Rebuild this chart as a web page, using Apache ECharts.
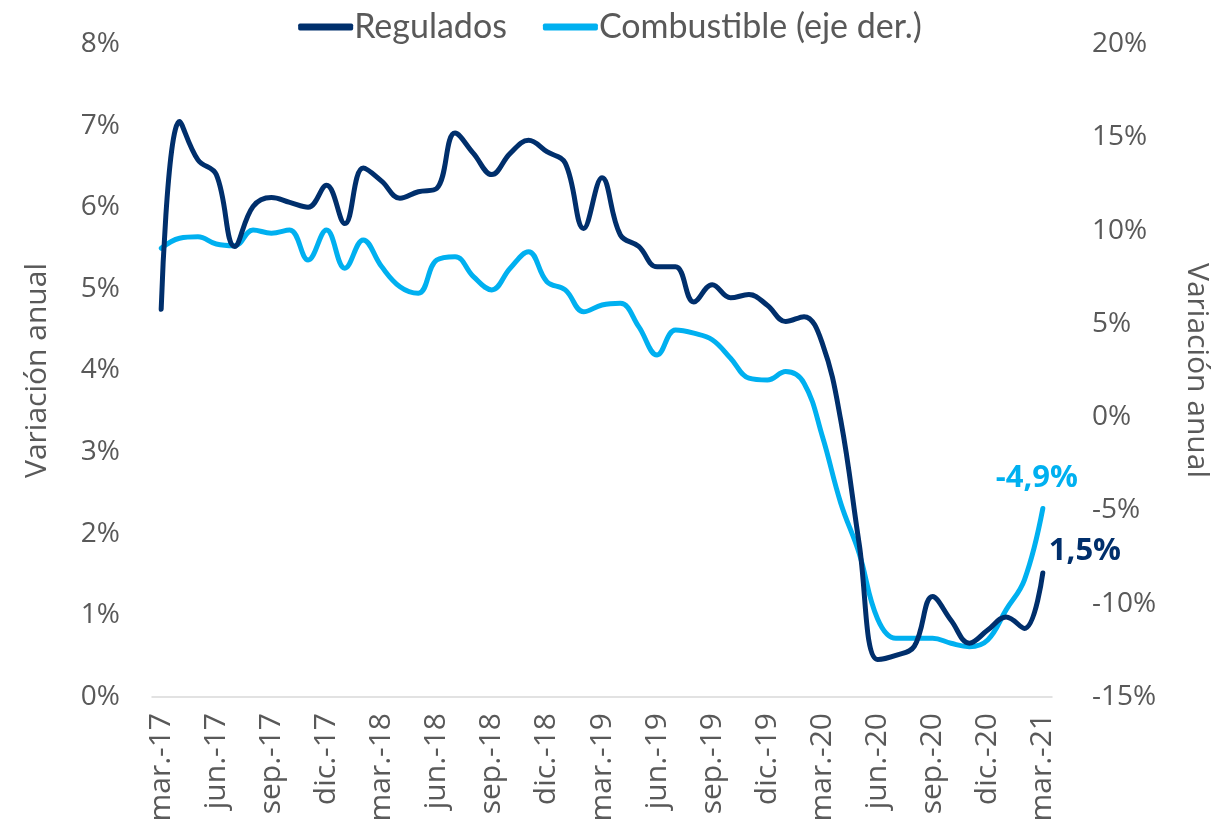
<!DOCTYPE html>
<html>
<head>
<meta charset="utf-8">
<script src="https://cdn.jsdelivr.net/npm/echarts@6/dist/echarts.min.js"></script>
<style>
  html, body { margin: 0; padding: 0; background: #fff; }
  #chart { width: 1220px; height: 839px; }
</style>
</head>
<body>
<div id="chart"></div>
<script>
// meses (mar.-17 a mar.-21)
var meses = [
  'mar.-17','abr.-17','may.-17','jun.-17','jul.-17','ago.-17','sep.-17','oct.-17','nov.-17','dic.-17',
  'ene.-18','feb.-18','mar.-18','abr.-18','may.-18','jun.-18','jul.-18','ago.-18','sep.-18','oct.-18','nov.-18','dic.-18',
  'ene.-19','feb.-19','mar.-19','abr.-19','may.-19','jun.-19','jul.-19','ago.-19','sep.-19','oct.-19','nov.-19','dic.-19',
  'ene.-20','feb.-20','mar.-20','abr.-20','may.-20','jun.-20','jul.-20','ago.-20','sep.-20','oct.-20','nov.-20','dic.-20',
  'ene.-21','feb.-21','mar.-21'
];
// variacion anual regulados (eje izq., %)
var regulados = [
  4.75, 7.05, 6.58, 6.40, 5.52, 6.01, 6.12, 6.06, 6.00, 6.27,
  5.80, 6.48, 6.32, 6.11, 6.19, 6.23, 6.91, 6.66, 6.40, 6.66, 6.82, 6.68,
  6.54, 5.74, 6.36, 5.66, 5.52, 5.27, 5.27, 4.84, 5.05, 4.89, 4.93, 4.80,
  4.60, 4.66, 4.33, 3.39, 1.88, 0.46, 0.51, 0.62, 1.23, 0.94, 0.66, 0.82,
  0.98, 0.84, 1.52
];
// variacion anual combustible (eje der., %)
var combustible = [
  9.05, 9.59, 9.67, 9.28, 9.19, 10.03, 9.86, 10.03, 8.42, 10.03,
  7.98, 9.50, 8.07, 6.99, 6.64, 8.42, 8.60, 7.53, 6.82, 7.98, 8.87, 7.26,
  6.82, 5.65, 6.01, 6.10, 4.85, 3.33, 4.67, 4.50, 4.15, 3.16, 2.09, 1.99,
  2.44, 1.82, -1.04, -4.61, -7.29, -10.80, -11.85, -11.85, -11.85, -12.12, -12.30, -11.94,
  -10.33, -8.72, -4.90
];
var ejeIzq = { min: 0, max: 8, interval: 1 };
var ejeDer = { min: -15, max: 20, interval: 5 };

var gris = '#595959';
var azulOscuro = '#002F6C';
var azulClaro = '#00B0F0';

function fmtComa(v) {
  return v.toFixed(1).replace('.', ',') + '%';
}

var myChart = echarts.init(document.getElementById('chart'));
var option = {
  animation: false,
  legend: {
    top: 5,
    left: 'center',
    itemWidth: 55,
    itemHeight: 7,
    itemGap: 36,
    textStyle: { color: gris, fontSize: 34, fontFamily: 'Lato', padding: [0, 0, 0, -4] },
    data: [
      { name: 'Regulados', icon: 'roundRect' },
      { name: 'Combustible (eje der.)', icon: 'roundRect' }
    ]
  },
  grid: { left: 152, right: 163, top: 44, bottom: 142 },
  xAxis: {
    type: 'category',
    data: meses,
    boundaryGap: true,
    axisLine: { lineStyle: { color: '#d9d9d9', width: 1.5 } },
    axisTick: { show: false },
    axisLabel: {
      interval: 2,
      rotate: 90,
      margin: 16,
      color: gris,
      fontSize: 30,
      fontFamily: 'Open Sans'
    }
  },
  yAxis: [
    {
      type: 'value',
      min: ejeIzq.min, max: ejeIzq.max, interval: ejeIzq.interval,
      name: 'Variación anual',
      nameLocation: 'middle',
      nameGap: 100,
      nameTextStyle: { color: gris, fontSize: 30, fontFamily: 'Open Sans' },
      splitLine: { show: false },
      axisLine: { show: false },
      axisTick: { show: false },
      axisLabel: { formatter: '{value}%', color: gris, fontSize: 28, fontFamily: 'Open Sans', margin: 32 }
    },
    {
      type: 'value',
      min: ejeDer.min, max: ejeDer.max, interval: ejeDer.interval,
      name: 'Variación anual',
      nameLocation: 'middle',
      nameRotate: -90,
      nameGap: 130,
      nameTextStyle: { color: gris, fontSize: 30, fontFamily: 'Open Sans' },
      splitLine: { show: false },
      axisLine: { show: false },
      axisTick: { show: false },
      axisLabel: { formatter: '{value}%', color: gris, fontSize: 28, fontFamily: 'Open Sans', margin: 40 }
    }
  ],
  series: [
    {
      name: 'Regulados',
      type: 'line',
      yAxisIndex: 0,
      data: regulados,
      smooth: 0.4,
      showSymbol: false,
      lineStyle: { color: azulOscuro, width: 5, cap: 'round' },
      itemStyle: { color: azulOscuro },
      endLabel: {
        show: true,
        distance: 0,
        offset: [6, -22],
        formatter: function (p) { return fmtComa(p.value); },
        color: azulOscuro,
        fontSize: 31,
        fontWeight: 'bold',
        fontFamily: 'Open Sans'
      },
      z: 3
    },
    {
      name: 'Combustible (eje der.)',
      type: 'line',
      yAxisIndex: 1,
      data: combustible,
      smooth: 0.4,
      showSymbol: false,
      lineStyle: { color: azulClaro, width: 5, cap: 'round' },
      itemStyle: { color: azulClaro },
      endLabel: {
        show: true,
        distance: 0,
        offset: [-47, -30],
        formatter: function (p) { return fmtComa(p.value); },
        color: azulClaro,
        fontSize: 31,
        fontWeight: 'bold',
        fontFamily: 'Open Sans'
      },
      z: 2
    }
  ]
};
myChart.setOption(option);
</script>
</body>
</html>
